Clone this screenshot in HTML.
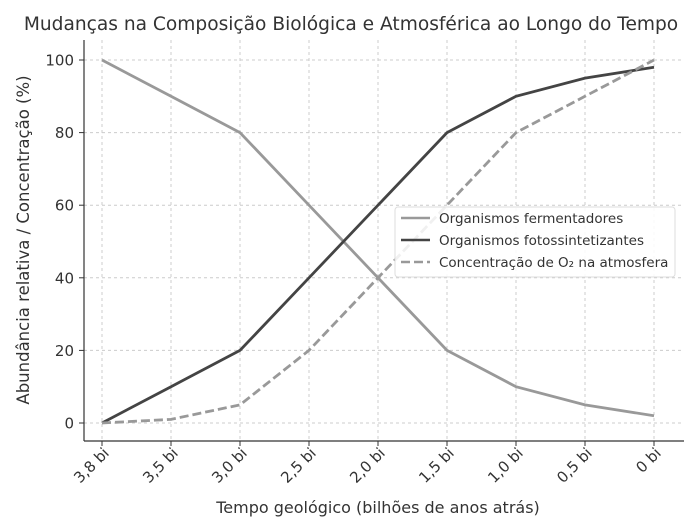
<!DOCTYPE html>
<html><head><meta charset="utf-8"><style>
body{margin:0;background:#fff}
svg text{font-family:"DejaVu Sans","Liberation Sans",sans-serif;fill:#333}
</style></head><body>
<svg id="c" width="700" height="525" xmlns="http://www.w3.org/2000/svg">
<text x="351" y="30" text-anchor="middle" font-size="18.6">Mudanças na Composição Biológica e Atmosférica ao Longo do Tempo</text>
<g id="grid"></g><g id="axes"></g><g id="series"></g>
<text transform="translate(29,240) rotate(-90)" text-anchor="middle" font-size="16.5">Abundância relativa / Concentração (%)</text>
<text x="378" y="513" text-anchor="middle" font-size="16">Tempo geológico (bilhões de anos atrás)</text>
<g>
<rect x="395" y="207" width="280" height="70" rx="3" fill="#fff" fill-opacity="0.85" stroke="#ddd"/>
<line x1="401" y1="218" x2="430" y2="218" stroke="#999" stroke-width="2.5"/>
<text x="439" y="223" font-size="13.5">Organismos fermentadores</text>
<line x1="401" y1="240" x2="430" y2="240" stroke="#444" stroke-width="2.5"/>
<text x="439" y="245" font-size="13.5">Organismos fotossintetizantes</text>
<line x1="401" y1="262" x2="430" y2="262" stroke="#999" stroke-width="2.5" stroke-dasharray="9,4"/>
<text x="439" y="267" font-size="13.5">Concentração de O₂ na atmosfera</text>
</g>
</svg>
<script>
const categories=["3,8 bi","3,5 bi","3,0 bi","2,5 bi","2,0 bi","1,5 bi","1,0 bi","0,5 bi","0 bi"];
const fermentadores=[100,90,80,60,40,20,10,5,2];
const fotossintetizantes=[0,10,20,40,60,80,90,95,98];
const oxigenio=[0,1,5,20,40,60,80,90,100];
const yTicks=[0,20,40,60,80,100];
const NS="http://www.w3.org/2000/svg";
const X=i=>102+i*69, Y=v=>423-v*3.63;
function mk(t,a,p){const e=document.createElementNS(NS,t);for(const k in a)e.setAttribute(k,a[k]);p.appendChild(e);return e;}
const g=document.getElementById('grid'),ax=document.getElementById('axes'),s=document.getElementById('series');
categories.forEach((c,i)=>{
 const l=mk('line',{x1:X(i),x2:X(i),y1:40,y2:441,stroke:'#ccc','stroke-dasharray':'3,3'},g);
 
 
 const t=mk('text',{transform:`translate(${X(i)+8},454) rotate(-45)`,'text-anchor':'end','font-size':'15'},ax);
 t.textContent=c;
 
 
 mk('line',{x1:X(i),x2:X(i),y1:441,y2:446,stroke:'#333'},ax);
});
yTicks.forEach(v=>{
 const l=mk('line',{x1:84,x2:684,y1:Y(v),y2:Y(v),stroke:'#ccc','stroke-dasharray':'3,3'},g);
 
 
 const t=mk('text',{x:74,y:Y(v)+5.5,'text-anchor':'end','font-size':'15'},ax);
 t.textContent=v;
 
 
 mk('line',{x1:79,x2:84,y1:Y(v),y2:Y(v),stroke:'#333'},ax);
});
mk('line',{x1:84,x2:84,y1:40,y2:441,stroke:'#333','stroke-width':1.2},ax);
mk('line',{x1:84,x2:684,y1:441,y2:441,stroke:'#333','stroke-width':1.2},ax);
function line(d,col,dash,name){
 const p=mk('polyline',{points:d.map((v,i)=>X(i)+','+Y(v)).join(' '),fill:'none',stroke:col,'stroke-width':2.8,'stroke-dasharray':dash||'none'},s);
 
 
}
line(fermentadores,'#999',null,'series-fermentadores');
line(fotossintetizantes,'#444',null,'series-fotossintetizantes');
line(oxigenio,'#999','9,4','series-oxigenio');
</script>
</body></html>
